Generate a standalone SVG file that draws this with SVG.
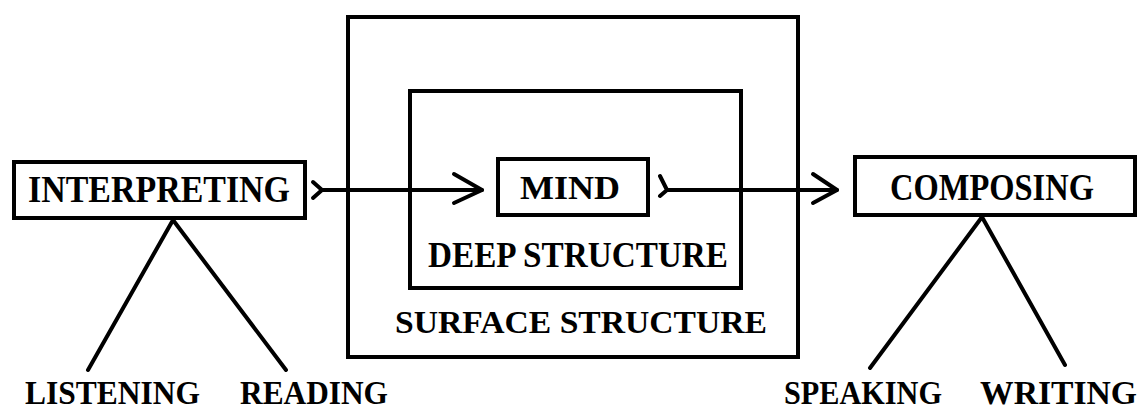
<svg xmlns="http://www.w3.org/2000/svg" width="1140" height="409" viewBox="0 0 1140 409">
<style>
.box{fill:none;stroke:#000;stroke-width:4;}
.ln{fill:none;stroke:#000;stroke-width:4;stroke-linecap:round;stroke-linejoin:round;}
text{font-family:"Liberation Serif","Times New Roman",serif;font-weight:bold;fill:#000;}
.lbl{font-size:34px;}
</style>
<rect width="1140" height="409" fill="#fff"/>
<g id="surface-structure">
<rect class="box" x="348" y="17" width="450" height="340"/>
<text x="395" y="333" font-size="31" textLength="372" lengthAdjust="spacingAndGlyphs">SURFACE STRUCTURE</text>
</g>
<g id="deep-structure">
<rect class="box" x="410" y="91" width="331" height="197"/>
<text x="428" y="267" font-size="35" textLength="300" lengthAdjust="spacingAndGlyphs">DEEP STRUCTURE</text>
</g>
<g id="mind">
<rect class="box" x="498" y="159" width="150" height="56"/>
<text x="520" y="199" font-size="34" textLength="100" lengthAdjust="spacingAndGlyphs">MIND</text>
</g>
<g id="interpreting">
<rect class="box" x="14" y="162" width="291" height="56"/>
<text x="28" y="202" font-size="37" textLength="262" lengthAdjust="spacingAndGlyphs">INTERPRETING</text>
</g>
<g id="composing">
<rect class="box" x="855" y="157" width="280" height="58"/>
<text x="890" y="200" font-size="37" textLength="204" lengthAdjust="spacingAndGlyphs">COMPOSING</text>
</g>
<g id="listening"><text class="lbl" x="25" y="404" textLength="175" lengthAdjust="spacingAndGlyphs">LISTENING</text></g>
<g id="reading"><text class="lbl" x="240" y="404" textLength="148" lengthAdjust="spacingAndGlyphs">READING</text></g>
<g id="speaking"><text class="lbl" x="784" y="404" textLength="158" lengthAdjust="spacingAndGlyphs">SPEAKING</text></g>
<g id="writing"><text class="lbl" x="980" y="404" textLength="157" lengthAdjust="spacingAndGlyphs">WRITING</text></g>
<g id="connectors">
<path class="ln" d="M313 182 L322 190 L313 198 M322 190 L482 190"/>
<path class="ln" d="M454 174 L482 190 L454 203"/>
<path class="ln" d="M660 176 L667 190 L660 196 M667 190 L837 190"/>
<path class="ln" d="M813 174 L837 190 L813 203"/>
<path class="ln" d="M88 370 L173 220 L286 370"/>
<path class="ln" d="M870 368 L982 217 L1065 365"/>
</g>
</svg>
